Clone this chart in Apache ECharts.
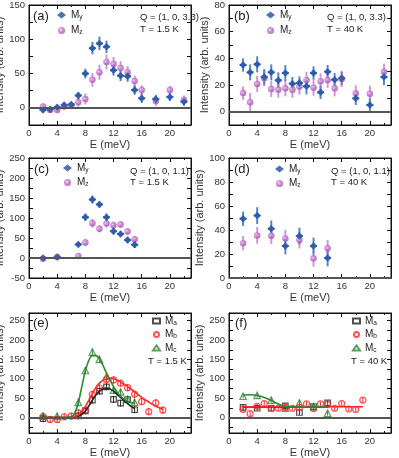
<!DOCTYPE html>
<html>
<head>
<meta charset="utf-8">
<script src="https://cdn.jsdelivr.net/npm/echarts@6/dist/echarts.min.js"></script>
<style>
  html, body { margin: 0; padding: 0; background: #fff; }
  #chart { width: 399px; height: 458px; }
</style>
</head>
<body>
<div id="chart"></div>
<script>
// ---- data ----
const E_AB = [2, 3, 4, 5, 6, 7, 8, 9, 10, 11, 12, 13, 14, 15, 16, 18, 20, 22];
const A_MY = [-3, -2, 1, 4, 5, 18, 50, 87, 94, 89, 55, 47, 46, 26, 14, 13, 16, 9];
const A_MY_ERR = [4, 4, 4, 4, 4, 5, 7, 9, 10, 9, 8, 8, 8, 7, 7, 6, 6, 6];
const A_MZ = [2, -3, -3, 2, 3, 8, 13, 41, 52, 67, 64, 58, 52, 39, 26, 10, 26, 12];
const A_MZ_ERR = [4, 4, 4, 4, 4, 6, 8, 10, 11, 11, 10, 10, 9, 8, 7, 7, 6, 6];

const B_MY = [35, 29.5, 35.5, 26, 29.5, 23.5, 29, 21, 21.5, 19, 29, 14.5, 30, 24, 25, 10, 5, 26];
const B_MY_ERR = [5, 6, 6, 6, 6, 6, 6, 5, 5, 6, 5, 5, 5, 5, 5, 5, 5, 6];
const B_MZ = [14, 7, 20.8, 25, 17, 16.5, 17.5, 16.5, 18.8, 23.8, 18, 22.8, 23.8, 17.5, 24.5, 13.8, 13.5, 30];
const B_MZ_ERR = [5, 7, 6, 6, 6, 6, 6, 6, 6, 6, 6, 6, 6, 6, 6, 6, 6, 6];

const E_C = [2, 4, 7, 8, 9, 10, 11, 12, 13, 14, 15];
const C_MY = [0, 2.5, 34, 102, 146, 134, 102, 67, 60, 45, 33];
const C_MY_ERR = [5, 5, 7, 9, 10, 8, 9, 8, 7, 8, 8];
const C_MZ = [-2, 2.5, 5, 39, 87, 73, 86, 82, 84, 66, 47];
const C_MZ_ERR = [5, 5, 6, 9, 11, 9, 10, 9, 8, 8, 8];

const E_D = [2, 4, 6, 8, 10, 12, 14];
const D_MY = [49.4, 52, 41, 26.7, 35, 26.7, 16.7];
const D_MY_ERR = [6, 7, 7, 7, 7, 7, 7];
const D_MZ = [29, 35.5, 35.3, 33, 31.7, 16.4, 24.7];
const D_MZ_ERR = [6, 7, 7, 7, 7, 7, 7];

const E_E_A = [2, 7, 8, 9, 10, 11, 12, 13, 14, 15];
const E_MA = [-3, 4, 17, 45, 68, 79, 47, 37, 46, 20];
const E_E_B = [2, 3, 4, 5, 6, 7, 8, 9, 10, 11, 12, 13, 14, 15, 16, 17, 18, 19];
const E_MB = [2.6, -5, -5, 2, 3.5, 12, 19, 60, 76, 98, 97, 88.5, 77, 60, 41, 15, 38, 19];
const E_E_C = [2, 4, 7, 8, 9, 10, 11, 12, 13, 14, 15];
const E_MC = [4, 3.5, 39, 121.5, 169, 150, 106, 71, 66, 47, 39];
const FIT_EA_X = [2, 6.5, 7, 7.5, 8, 8.5, 9, 9.5, 10, 10.5, 11, 11.5, 12, 12.5, 13, 13.5, 14, 14.5, 15];
const FIT_EA = [0, 0, 3, 8, 17, 30, 45, 58, 68, 74, 76, 74, 68, 60, 52, 44, 36, 29, 23];
const FIT_EB_X = [2, 6, 6.5, 7, 7.5, 8, 8.5, 9, 9.5, 10, 10.5, 11, 11.5, 12, 12.5, 13, 13.5, 14, 15, 16, 17, 18, 19];
const FIT_EB = [0, 0, 2, 7, 16, 28, 45, 62, 78, 89, 96, 100, 101, 100, 97, 92, 86, 80, 66, 52, 40, 29, 21];
const FIT_EC_X = [2, 5, 6, 6.5, 7, 7.5, 8, 8.5, 9, 9.5, 10, 10.5, 11, 11.5, 12, 12.5, 13, 14, 15];
const FIT_EC = [0, 0, 2, 12, 38, 80, 120, 148, 160, 160, 152, 135, 115, 98, 80, 66, 55, 42, 36];

const F_E_A = [2, 4, 6, 8, 10, 12, 14];
const F_MA = [26, 24, 24, 30, 13, 28, 38];
const F_E_B = [2, 3, 4, 5, 6, 7, 8, 9, 10, 11, 12, 13, 14, 15, 16, 17, 18, 19];
const F_MB = [21, 10, 29, 36, 24, 24, 26, 24, 26, 35, 23, 35, 34, 24, 36, 22, 21, 45];
const F_E_C = [2, 4, 6, 8, 10, 12, 14];
const F_MC = [55, 57, 45, 24, 38, 28, 11];
const FIT_FA_X = [2, 14];
const FIT_FA = [27, 27];
const FIT_FB_X = [2, 19];
const FIT_FB = [28, 28];
const FIT_FC_X = [2, 3, 4, 5, 6, 7, 8, 9, 10, 12, 14];
const FIT_FC = [58, 59, 57, 52, 44, 35, 29, 27, 27, 27, 27];

const X_LABELS = [0, 4, 8, 12, 16, 20];
const Y_LABELS_EF = [0, 50, 100, 150, 200, 250];
const Y_TICKS_EF = [-25, 0, 25, 50, 75, 100, 125, 150, 175, 200, 225, 250];

// ---- styling ----
const FONT = 'Liberation Sans, Arial, sans-serif';
const BLUE = '#1f4fa6', BLUE_ERR = '#5b86c6';
const PURPLE = {
  type: 'radial', x: 0.4, y: 0.4, r: 0.65,
  colorStops: [{ offset: 0, color: '#e9c6ef' }, { offset: 0.55, color: '#bb68c6' }, { offset: 1, color: '#a24eb2' }]
};
const PURPLE_ERR = '#cf97d8';
const BLACK = '#222', RED = '#ff2626', GREEN = '#2b8a32';

const layout = [
  { left: 29, top: 5 }, { left: 229, top: 5 },
  { left: 29, top: 158 }, { left: 229, top: 158 },
  { left: 29, top: 313 }, { left: 229, top: 313 }
];
const yCfg = [
  { min: -25, max: 150, interval: 25, step: 50 },
  { min: -10, max: 80, interval: 10, step: 20 },
  { min: -50, max: 250, interval: 25, step: 50 },
  { min: 0, max: 100, interval: 10, step: 20 },
  { min: -40, max: 270 },
  { min: -40, max: 270 }
];

const grids = [], xAxes = [], yAxes = [], series = [], legends = [], graphics = [];

const tick = { inside: true, length: 4, lineStyle: { color: '#111' } };
const axisLine = { onZero: false, lineStyle: { color: '#111', width: 1 } };

layout.forEach((g, i) => {
  grids.push({
    left: g.left, top: g.top, width: 162, height: 120, show: true,
    borderColor: '#111', borderWidth: 1, containLabel: false, outerBoundsMode: 'none'
  });
  const xBase = {
    type: 'value', gridIndex: i, min: 0, max: 23, interval: 4,
    axisLine, axisTick: tick, splitLine: { show: false },
    minorTick: { show: true, splitNumber: 2, length: 2, lineStyle: { color: '#111' } }
  };
  xAxes.push(Object.assign({}, xBase, {
    position: 'bottom',
    axisLabel: {
      color: '#333', fontSize: 9.5, fontFamily: FONT, margin: 3,
      customValues: X_LABELS, showMinLabel: true, hideOverlap: false
    },
    name: 'E (meV)', nameLocation: 'middle', nameGap: 14,
    nameTextStyle: { color: '#333', fontSize: 11, fontFamily: FONT }
  }));
  xAxes.push(Object.assign({}, xBase, { position: 'top', axisLabel: { show: false } }));

  const c = yCfg[i];
  const yBase = {
    type: 'value', gridIndex: i, min: c.min, max: c.max,
    axisLine, axisTick: tick, splitLine: { show: false }
  };
  let labelCfg = { color: '#333', fontSize: 9.5, fontFamily: FONT, margin: 4, showMinLabel: true };
  if (c.interval) {
    yBase.interval = c.interval;
    labelCfg.interval = 0;
    labelCfg.formatter = v => (Math.round(v) % c.step === 0 ? String(v) : '');
  } else {
    yBase.axisTick = Object.assign({}, tick, { customValues: Y_TICKS_EF });
    labelCfg.customValues = Y_LABELS_EF;
  }
  yAxes.push(Object.assign({}, yBase, {
    position: 'left', axisLabel: labelCfg,
    name: 'Intensity (arb. units)', nameLocation: 'middle', nameGap: 19,
    nameTextStyle: { color: '#333', fontSize: 11, fontFamily: FONT }
  }));
  yAxes.push(Object.assign({}, yBase, { position: 'right', axisLabel: { show: false } }));
});

function errSeries(gi, xs, ys, es, color, width, cap) {
  return {
    type: 'custom', xAxisIndex: 2 * gi, yAxisIndex: 2 * gi, z: 2, silent: true,
    data: xs.map((x, k) => [x, ys[k] - es[k], ys[k] + es[k], ys[k]]),
    renderItem: (params, api) => {
      const x = api.value(0);
      const lo = api.coord([x, api.value(1)]);
      const hi = api.coord([x, api.value(2)]);
      const children = [{
        type: 'line', shape: { x1: lo[0], y1: lo[1], x2: hi[0], y2: hi[1] },
        style: { stroke: color, lineWidth: width }
      }];
      if (cap) {
        const a = api.coord([x - 0.5, api.value(3)]);
        const b = api.coord([x + 0.5, api.value(3)]);
        children.push({
          type: 'line', shape: { x1: a[0], y1: a[1], x2: b[0], y2: b[1] },
          style: { stroke: color, lineWidth: width }
        });
      }
      return { type: 'group', children };
    }
  };
}

function dots(gi, name, xs, ys, symbol, size, color, open) {
  return {
    type: 'scatter', name, xAxisIndex: 2 * gi, yAxisIndex: 2 * gi, z: 3,
    symbol, symbolSize: size,
    itemStyle: open ? { color: 'rgba(255,255,255,0)', borderColor: color, borderWidth: 1.2 } : { color },
    data: xs.map((x, k) => [x, ys[k]])
  };
}

function fit(gi, xs, ys, color) {
  return {
    type: 'line', xAxisIndex: 2 * gi, yAxisIndex: 2 * gi, z: 4, silent: true,
    showSymbol: false, smooth: 0.3, lineStyle: { color, width: 1.6 },
    data: xs.map((x, k) => [x, ys[k]])
  };
}

function zeroLine(gi) {
  return {
    type: 'line', xAxisIndex: 2 * gi, yAxisIndex: 2 * gi, data: [], silent: true, z: 1,
    markLine: {
      silent: true, symbol: 'none', label: { show: false },
      lineStyle: { color: '#555', width: 2, type: 'solid' },
      data: [{ yAxis: 0 }]
    }
  };
}

// panels a-d : My / Mz
const mPanels = [
  [E_AB, A_MY, A_MY_ERR, A_MZ, A_MZ_ERR],
  [E_AB, B_MY, B_MY_ERR, B_MZ, B_MZ_ERR],
  [E_C, C_MY, C_MY_ERR, C_MZ, C_MZ_ERR],
  [E_D, D_MY, D_MY_ERR, D_MZ, D_MZ_ERR]
];
mPanels.forEach((p, gi) => {
  series.push(zeroLine(gi));
  series.push(errSeries(gi, p[0], p[3], p[4], PURPLE_ERR, 2, false));
  series.push(errSeries(gi, p[0], p[1], p[2], BLUE_ERR, 2, true));
  series.push(dots(gi, 'Mz', p[0], p[3], 'circle', 6.5, PURPLE, false));
  series.push(dots(gi, 'My', p[0], p[1], 'diamond', 7.5, BLUE, false));
});

// panels e-f : Ma / Mb / Mc
const ERR_E = 9, ERR_F = 6;
[
  [E_E_A, E_MA, E_E_B, E_MB, E_E_C, E_MC, ERR_E,
    [FIT_EA_X, FIT_EA], [FIT_EB_X, FIT_EB], [FIT_EC_X, FIT_EC]],
  [F_E_A, F_MA, F_E_B, F_MB, F_E_C, F_MC, ERR_F,
    [FIT_FA_X, FIT_FA], [FIT_FB_X, FIT_FB], [FIT_FC_X, FIT_FC]]
].forEach((p, k) => {
  const gi = 4 + k;
  const err = p[6];
  series.push(zeroLine(gi));
  series.push(errSeries(gi, p[0], p[1], p[0].map(() => err), BLACK, 1, false));
  series.push(errSeries(gi, p[2], p[3], p[2].map(() => err), RED, 1, false));
  series.push(errSeries(gi, p[4], p[5], p[4].map(() => err), GREEN, 1, false));
  series.push(fit(gi, p[7][0], p[7][1], BLACK));
  series.push(fit(gi, p[8][0], p[8][1], RED));
  series.push(fit(gi, p[9][0], p[9][1], GREEN));
  series.push(dots(gi, 'Ma', p[0], p[1], 'rect', 5.5, BLACK, true));
  series.push(dots(gi, 'Mb', p[2], p[3], 'circle', 6, RED, true));
  series.push(dots(gi, 'Mc', p[4], p[5], 'triangle', 6.5, GREEN, true));
});

// legends
const legendText = {
  color: '#222', fontSize: 10, fontFamily: FONT,
  rich: { s: { fontSize: 6.5, fontFamily: FONT, color: '#222', verticalAlign: 'bottom', padding: [4, 0, 0, 0] } }
};
const legendFmt = n => 'M{s|' + n.slice(1) + '}';
const legendPos = [
  { left: 57, top: 10, names: ['My', 'Mz'], gap: 5, size: 7 },
  { left: 266, top: 10, names: ['My', 'Mz'], gap: 5, size: 7 },
  { left: 63, top: 163, names: ['My', 'Mz'], gap: 4, size: 7 },
  { left: 275, top: 164, names: ['My', 'Mz'], gap: 4, size: 7 },
  { left: 152, top: 316, names: ['Ma', 'Mb', 'Mc'], gap: 3, size: 5 },
  { left: 352, top: 316, names: ['Ma', 'Mb', 'Mc'], gap: 3, size: 5 }
];
legendPos.forEach(l => {
  legends.push({
    orient: 'vertical', left: l.left, top: l.top, padding: 0,
    itemWidth: l.size + 2, itemHeight: l.size, itemGap: l.gap, selectedMode: false,
    data: l.names, formatter: legendFmt, textStyle: legendText
  });
});

// panel labels and annotations
const notes = [
  ['(a)', 33, 16, 13], ['(b)', 234, 16, 13], ['(c)', 34, 169, 13],
  ['(d)', 234, 169, 13], ['(e)', 33, 323, 13], ['(f)', 235, 323, 13],
  ['Q = (1, 0, 3.3)', 140, 17, 9.5], ['T = 1.5 K', 140, 29, 9.5],
  ['Q = (1, 0, 3.3)', 327, 17, 9.5], ['T = 40 K', 327, 29, 9.5],
  ['Q = (1, 0, 1.1)', 130, 171, 9.5], ['T = 1.5 K', 130, 182, 9.5],
  ['Q = (1, 0, 1.1)', 331, 171, 9.5], ['T = 40 K', 331, 182, 9.5],
  ['T = 1.5 K', 148, 361, 9.5], ['T = 40 K', 351, 361, 9.5]
];
notes.forEach(n => {
  graphics.push({
    type: 'text', z: 10,
    style: { text: n[0], x: n[1], y: n[2], fill: '#222', font: n[3] + 'px ' + FONT, verticalAlign: 'middle' }
  });
});

const chart = echarts.init(document.getElementById('chart'), null, { renderer: 'canvas' });
chart.setOption({
  animation: false,
  backgroundColor: '#fff',
  grid: grids,
  xAxis: xAxes,
  yAxis: yAxes,
  legend: legends,
  graphic: graphics,
  series
});
</script>
</body>
</html>
